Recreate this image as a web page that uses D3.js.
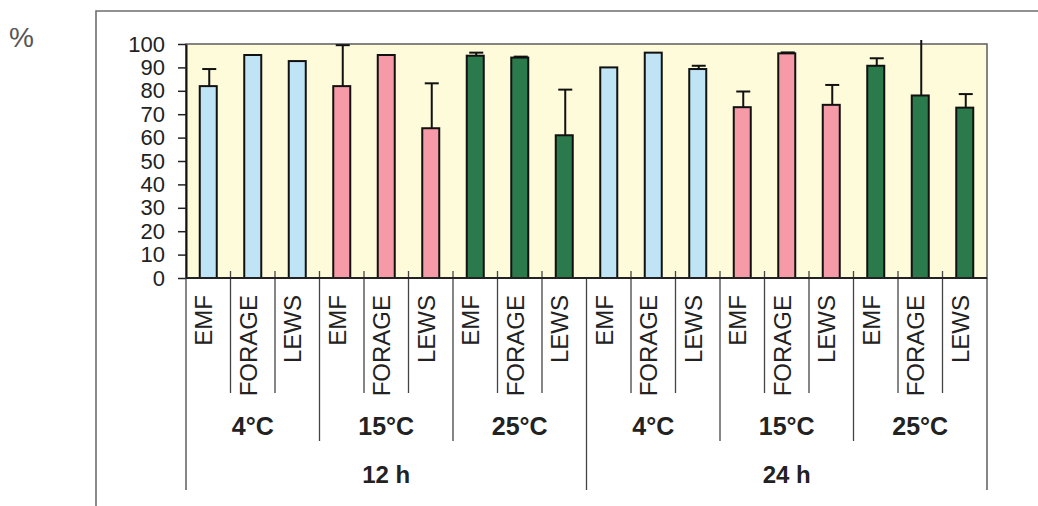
<!DOCTYPE html>
<html>
<head>
<meta charset="utf-8">
<script src="https://cdn.jsdelivr.net/npm/d3@7"></script>
<style>
  html, body { margin: 0; padding: 0; background: #fff; }
  svg { display: block; font-family: Arial, "Liberation Sans", sans-serif; }
</style>
</head>
<body>
<svg id="chart" width="1038" height="506"></svg>
<script>
// Survival (%) by storage time, temperature and product
const hours = ["12 h", "24 h"];
const temps = ["4°C", "15°C", "25°C"];
const products = ["EMF", "FORAGE", "LEWS"];

// mean values, ordered hour > temperature > product
const means = [
  82, 95.3, 92.7,   // 12 h, 4°C
  82, 95.3, 64,     // 12 h, 15°C
  95, 94.2, 61,     // 12 h, 25°C
  90, 96.3, 89.3,   // 24 h, 4°C
  73, 96, 74,       // 24 h, 15°C
  90.7, 78, 72.8    // 24 h, 25°C
];
// upper standard deviations
const errors = [
  7.3, 0, 0,
  17.5, 0, 19.2,
  1.3, 0.4, 19.5,
  0, 0, 1.4,
  6.7, 0.4, 8.5,
  3.2, 25, 5.8
];
const yTicks = [0, 10, 20, 30, 40, 50, 60, 70, 80, 90, 100];
const tempColors = ["#bfe4f6", "#f59aa6", "#2b7a4c"];

const rows = [];
hours.forEach((h, hi) => temps.forEach((t, ti) => products.forEach((p, pi) => {
  const i = hi * 9 + ti * 3 + pi;
  rows.push({ i, hour: h, temp: t, ti, product: p, value: means[i], err: errors[i] });
})));

const svg = d3.select("#chart");
const plot = { left: 186, right: 987, top: 44, bottom: 278 };

const x = d3.scaleBand().domain(rows.map(d => d.i)).range([plot.left, plot.right]).padding(0);
const y = d3.scaleLinear().domain([0, 100]).range([plot.bottom, plot.top]);

// outer frame (left and top edges)
svg.append("path")
  .attr("d", "M96,506 V11 H1038")
  .attr("fill", "none").attr("stroke", "#6e6e6e").attr("stroke-width", 1.6);

// percent label
svg.append("text").attr("x", 9).attr("y", 47)
  .attr("font-size", 28).attr("fill", "#555").text("%");

// plot background
svg.append("rect")
  .attr("x", plot.left).attr("y", plot.top)
  .attr("width", plot.right - plot.left).attr("height", plot.bottom - plot.top)
  .attr("fill", "#fdfbda").attr("stroke", "#666").attr("stroke-width", 1.6);

// y axis
const yAxis = svg.append("g").attr("transform", `translate(${plot.left},0)`)
  .call(d3.axisLeft(y).tickValues(yTicks).tickSize(8).tickSizeOuter(0).tickPadding(13));
yAxis.select(".domain").attr("stroke", "#111").attr("stroke-width", 2);
yAxis.selectAll(".tick line").attr("stroke", "#222").attr("stroke-width", 1.5);
yAxis.selectAll(".tick text").attr("font-size", 22).attr("fill", "#222")
  .attr("font-family", "Arial, 'Liberation Sans', sans-serif");

// separators below the axis: product, temperature and hour levels
const bw = x.bandwidth();
const bounds = d3.range(rows.length + 1);
svg.append("g").selectAll("line").data(bounds).join("line")
  .attr("x1", k => plot.left + k * bw).attr("x2", k => plot.left + k * bw)
  .attr("y1", k => (k % 9 === 0) ? plot.bottom : plot.bottom - 7)
  .attr("y2", k => (k % 9 === 0) ? 490 : (k % 3 === 0 ? 441 : 393))
  .attr("stroke", "#444").attr("stroke-width", 1.3);

// bars
const barW = 19;
const bars = svg.append("g");
bars.selectAll("rect").data(rows).join("rect")
  .attr("x", d => x(d.i) + bw / 2 - barW / 2 + 1)
  .attr("y", d => y(d.value))
  .attr("width", barW - 2)
  .attr("height", d => y(0) - y(d.value))
  .attr("fill", d => tempColors[d.ti])
  .attr("stroke", "#111").attr("stroke-width", 2);

// error bars (upper only), clipped just above the plot area
svg.append("clipPath").attr("id", "errClip").append("rect")
  .attr("x", plot.left).attr("y", plot.top - 4)
  .attr("width", plot.right - plot.left).attr("height", plot.bottom - plot.top + 4);
const eb = svg.append("g").attr("clip-path", "url(#errClip)")
  .selectAll("g").data(rows.filter(d => d.err > 0)).join("g")
  .attr("stroke", "#111").attr("stroke-width", 2);
eb.append("line")
  .attr("x1", d => x(d.i) + bw / 2 + 1).attr("x2", d => x(d.i) + bw / 2 + 1)
  .attr("y1", d => y(d.value)).attr("y2", d => y(d.value + d.err));
eb.append("line")
  .attr("x1", d => x(d.i) + bw / 2 + 1 - 7).attr("x2", d => x(d.i) + bw / 2 + 1 + 7)
  .attr("y1", d => y(d.value + d.err)).attr("y2", d => y(d.value + d.err));

// bottom axis line
svg.append("line")
  .attr("x1", plot.left).attr("x2", plot.right)
  .attr("y1", plot.bottom).attr("y2", plot.bottom)
  .attr("stroke", "#222").attr("stroke-width", 2);

// product labels (rotated)
svg.append("g").selectAll("text").data(rows).join("text")
  .attr("transform", d => `translate(${x(d.i) + bw / 2 + 4},295) rotate(-90)`)
  .attr("text-anchor", "end")
  .attr("font-size", 24).attr("fill", "#222")
  .text(d => d.product);

// temperature labels
const tempGroups = d3.range(6).map(k => ({ k, label: temps[k % 3] }));
svg.append("g").selectAll("text").data(tempGroups).join("text")
  .attr("x", g => plot.left + (g.k * 3 + 1.5) * bw)
  .attr("y", 435)
  .attr("text-anchor", "middle").attr("font-size", 25).attr("font-weight", "bold")
  .attr("fill", "#222")
  .text(g => g.label);

// hour labels
svg.append("g").selectAll("text").data(hours).join("text")
  .attr("x", (h, k) => plot.left + (k * 9 + 4.5) * bw)
  .attr("y", 483)
  .attr("text-anchor", "middle").attr("font-size", 24).attr("font-weight", "bold")
  .attr("fill", "#222")
  .text(h => h);
</script>
</body>
</html>
